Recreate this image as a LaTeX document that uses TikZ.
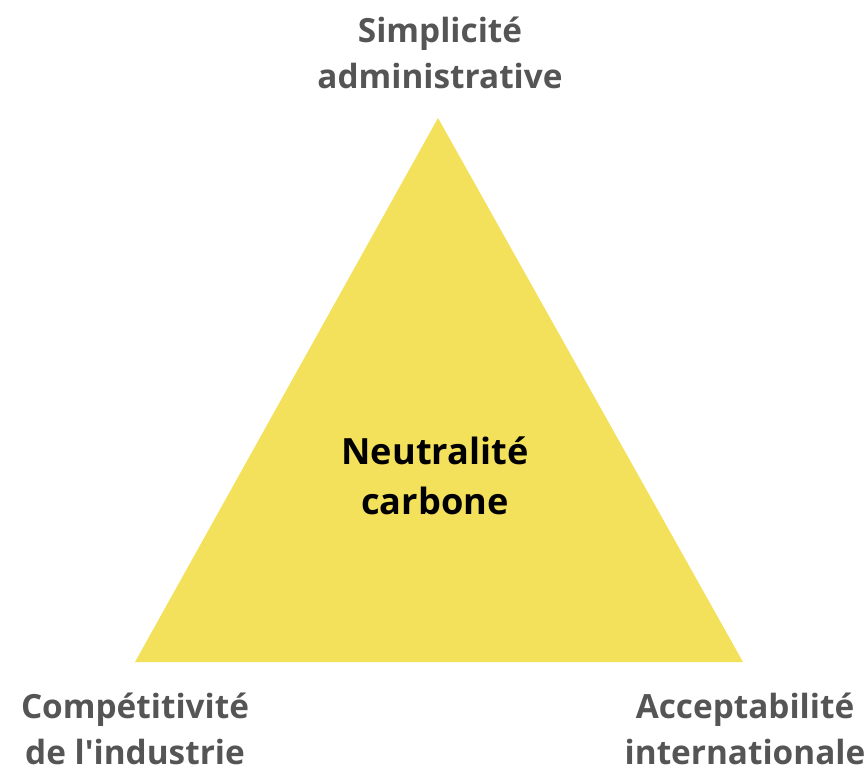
\documentclass[tikz,border=0pt]{standalone}
\usepackage{fontspec}
\setmainfont{Open Sans}
\definecolor{trianglefill}{HTML}{F3E05B}
\definecolor{labelgray}{HTML}{555555}
\tikzset{
    corner/.style={text=labelgray, font=\bfseries\fontsize{18.9}{26}\selectfont, align=center, inner sep=0pt},
    centre/.style={text=black, font=\bfseries\fontsize{20.5}{28.5}\selectfont, align=center, inner sep=0pt}
}
\begin{document}
\begin{tikzpicture}[x=0.567pt, y=-0.567pt]
        \useasboundingbox (0, 0) rectangle (867, 766);
        
        \coordinate (apex) at (438, 118);
        \coordinate (left) at (135, 662);
        \coordinate (right) at (743, 662);
        \fill[trianglefill] (apex) -- (left) -- (right) -- cycle;
        
        \node[centre] (goal) at (435, 476) {Neutralité\\carbone};
        
        \node[corner] (simple) at (440, 53) {Simplicité\\administrative};
        \node[corner] (compet) at (135, 729) {Compétitivité\\de l\textquotesingle industrie};
        \node[corner] (accept) at (745, 729) {Acceptabilité\\internationale};
    \end{tikzpicture}
\end{document}
